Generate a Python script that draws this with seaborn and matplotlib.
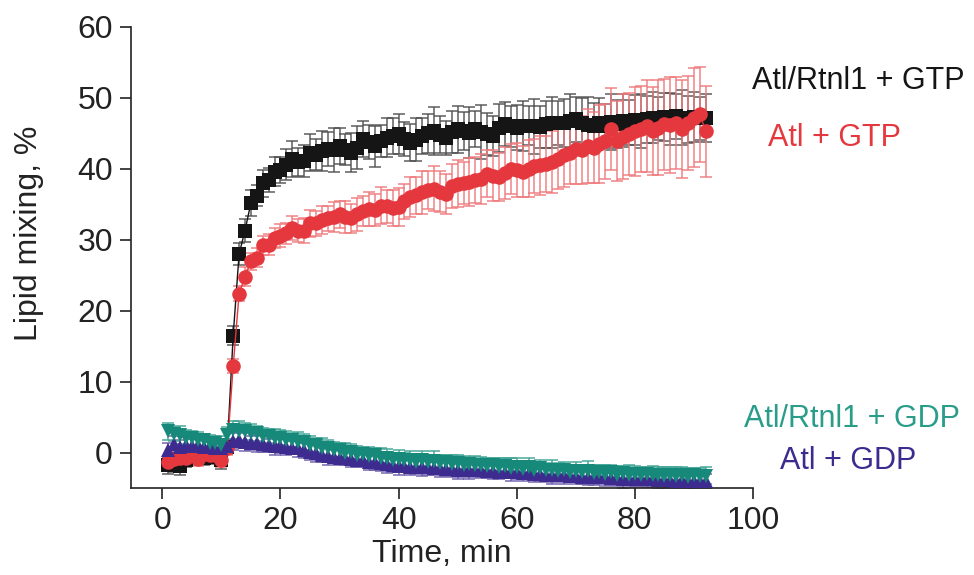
import numpy as np
import pandas as pd
import matplotlib
matplotlib.use("Agg")
import matplotlib.pyplot as plt
import seaborn as sns

sns.set_style("ticks")
plt.rcParams['font.family'] = ['Liberation Sans', 'DejaVu Sans']

# время, мин
time_min = [1, 2, 3, 4, 5, 6, 7, 8, 9, 10,
            11, 12, 13, 14, 15, 16, 17, 18, 19, 20,
            21, 22, 23, 24, 25, 26, 27, 28, 29, 30,
            31, 32, 33, 34, 35, 36, 37, 38, 39, 40,
            41, 42, 43, 44, 45, 46, 47, 48, 49, 50,
            51, 52, 53, 54, 55, 56, 57, 58, 59, 60,
            61, 62, 63, 64, 65, 66, 67, 68, 69, 70,
            71, 72, 73, 74, 75, 76, 77, 78, 79, 80,
            81, 82, 83, 84, 85, 86, 87, 88, 89, 90,
            91, 92]

# Atl/Rtnl1 + GTP
rtnl_gtp = [-1.8, -1.2, -1.9, -1.0, -0.6, -0.4, -0.7, -0.3, -0.6, -1.0,
            0.8, 16.5, 28.0, 31.3, 35.2, 36.2, 38.0, 38.4, 39.6, 39.8,
            40.6, 41.4, 41.0, 41.1, 42.3, 42.0, 42.5, 42.8, 42.6, 43.2,
            42.7, 42.3, 43.0, 44.2, 43.8, 43.2, 43.9, 44.4, 44.6, 44.9,
            44.2, 43.7, 44.1, 44.6, 45.0, 45.3, 44.8, 44.4, 45.2, 45.6,
            45.3, 45.1, 45.6, 45.2, 44.9, 44.6, 45.8, 46.3, 46.0, 45.8,
            46.0, 46.1, 46.0, 45.9, 46.3, 46.5, 46.4, 46.5, 46.8, 47.0,
            46.5, 46.2, 46.0, 46.4, 46.0, 46.6, 46.3, 46.8, 46.5, 46.9,
            46.7, 47.0, 47.2, 47.1, 47.3, 47.0, 47.4, 47.2, 47.0, 47.3,
            47.1, 47.2]
rtnl_gtp_err = [1.2, 1.5, 1.3, 1.0, 1.1, 0.9, 1.0, 0.8, 1.0, 1.3,
                1.0, 1.4, 1.5, 1.6, 1.8, 1.5, 1.9, 1.7, 2.0, 1.8,
                2.2, 2.5, 2.0, 2.3, 2.6, 2.2, 2.8, 2.4, 3.1, 2.5,
                2.2, 2.7, 3.0, 2.6, 2.4, 2.9, 2.3, 2.7, 2.5, 2.8,
                2.4, 2.6, 3.0, 2.5, 2.7, 3.4, 2.6, 2.4, 2.9, 3.3,
                2.7, 3.6, 2.5, 3.8, 3.0, 2.8, 3.4, 3.1, 2.9, 3.2,
                3.5, 2.8, 3.9, 3.0, 3.3, 3.6, 3.1, 3.4, 3.8, 3.2,
                3.5, 4.0, 3.3, 3.6, 3.1, 3.9, 3.4, 3.7, 3.2, 3.5,
                3.8, 3.3, 3.6, 3.0, 3.4, 3.7, 3.2, 3.9, 3.3, 3.5,
                3.1, 3.4]

# Atl + GTP
atl_gtp = [-1.3, -0.9, -0.7, -0.8, -0.3, -0.9, -0.2, -0.4, -0.3, -1.0,
           0.6, 12.2, 22.4, 24.8, 27.0, 27.5, 29.2, 29.3, 30.3, 30.6,
           30.9, 31.6, 31.3, 31.3, 32.3, 32.3, 32.8, 33.0, 33.2, 33.6,
           33.2, 33.0, 33.6, 34.1, 34.4, 34.2, 34.8, 34.7, 34.5, 34.6,
           35.4, 36.0, 36.3, 36.7, 37.0, 37.2, 36.8, 36.5, 37.6, 37.9,
           38.0, 38.1, 38.4, 38.6, 39.3, 39.0, 38.8, 39.4, 40.0, 39.8,
           39.6, 40.0, 40.4, 40.5, 40.7, 41.0, 41.4, 42.0, 42.3, 42.8,
           42.6, 43.2, 43.0, 43.5, 43.9, 45.6, 43.9, 44.5, 44.9, 45.3,
           45.6, 46.0, 45.3, 45.8, 46.3, 46.2, 46.5, 45.6, 46.5, 47.2,
           47.7, 45.3]
atl_gtp_err = [0.8, 1.0, 0.9, 0.7, 0.8, 1.0, 0.7, 0.9, 0.8, 1.0,
               0.9, 1.0, 1.1, 1.3, 1.2, 1.4, 1.3, 1.5, 1.4, 1.6,
               1.5, 1.7, 1.6, 1.8, 1.9, 1.7, 2.0, 1.8, 2.1, 1.9,
               2.2, 2.0, 2.3, 2.1, 2.4, 2.2, 2.6, 2.3, 2.5, 2.7,
               2.5, 2.8, 2.6, 3.0, 2.7, 3.2, 2.9, 2.8, 3.1, 3.3,
               3.0, 3.4, 3.2, 3.5, 3.3, 3.6, 3.4, 3.7, 3.5, 3.8,
               3.6, 4.0, 3.8, 4.2, 4.0, 4.4, 4.3, 4.6, 4.5, 4.9,
               4.8, 5.2, 5.0, 5.5, 5.3, 5.8, 5.6, 6.0, 5.8, 6.3,
               6.1, 6.5, 6.2, 6.7, 6.4, 6.8, 6.5, 6.9, 6.6, 7.0,
               6.7, 6.4]

# Atl/Rtnl1 + GDP
rtnl_gdp = [3.0, 2.6, 2.5, 2.1, 2.1, 1.7, 1.7, 1.4, 1.4, 1.1,
            2.5, 3.2, 3.0, 3.0, 2.7, 2.7, 2.3, 2.3, 2.0, 2.1,
            1.8, 1.8, 1.5, 1.5, 1.1, 1.1, 0.7, 0.6, 0.3, 0.4,
            0.0, 0.1, -0.3, -0.2, -0.5, -0.4, -0.8, -0.7, -1.0, -0.9,
            -1.1, -1.0, -1.3, -1.1, -1.4, -1.2, -1.5, -1.4, -1.6, -1.5,
            -1.7, -1.6, -1.8, -1.7, -1.9, -1.8, -2.0, -1.9, -2.2, -2.0,
            -2.3, -2.1, -2.4, -2.2, -2.5, -2.4, -2.6, -2.5, -2.7, -2.6,
            -2.8, -2.6, -2.9, -2.7, -3.0, -2.8, -3.1, -2.9, -3.1, -3.0,
            -3.2, -3.0, -3.2, -3.1, -3.3, -3.1, -3.3, -3.2, -3.4, -3.2,
            -3.3, -3.3]
rtnl_gdp_err = [1.2, 1.0, 1.3, 1.1, 1.0, 1.2, 0.9, 1.1, 1.0, 1.2,
                1.1, 1.3, 1.4, 1.2, 1.3, 1.1, 1.2, 1.0, 1.3, 1.1,
                1.2, 1.0, 1.4, 1.1, 1.2, 1.0, 1.3, 1.1, 1.2, 1.0,
                1.3, 1.1, 1.2, 1.0, 1.3, 1.1, 1.4, 1.2, 1.0, 1.3,
                1.1, 1.2, 1.0, 1.3, 1.1, 1.4, 1.2, 1.0, 1.3, 1.1,
                1.2, 1.0, 1.3, 1.1, 1.2, 1.0, 1.3, 1.1, 1.4, 1.2,
                1.0, 1.3, 1.1, 1.2, 1.0, 1.3, 1.1, 1.2, 1.0, 1.3,
                1.1, 1.4, 1.2, 1.0, 1.3, 1.1, 1.2, 1.0, 1.3, 1.1,
                1.2, 1.0, 1.3, 1.1, 1.2, 1.0, 1.3, 1.1, 1.2, 1.0,
                1.1, 1.2]

# Atl + GDP
atl_gdp = [0.3, 1.2, 0.8, 1.1, 0.9, 1.0, 0.8, 0.9, 0.7, 0.6,
           0.9, 1.6, 1.8, 1.5, 1.4, 1.3, 1.2, 1.0, 0.9, 0.9,
           0.8, 0.7, 0.6, 0.3, 0.1, -0.1, -0.3, -0.5, -0.6, -0.7,
           -0.8, -0.9, -1.0, -1.1, -1.3, -1.4, -1.5, -1.6, -1.8, -1.9,
           -1.9, -2.0, -2.0, -2.1, -2.1, -2.2, -2.2, -2.3, -2.3, -2.4,
           -2.4, -2.5, -2.5, -2.5, -2.6, -2.6, -2.7, -2.7, -2.8, -2.8,
           -2.9, -2.9, -3.0, -3.0, -3.1, -3.1, -3.2, -3.2, -3.3, -3.3,
           -3.4, -3.4, -3.5, -3.5, -3.5, -3.6, -3.6, -3.7, -3.7, -3.7,
           -3.8, -3.8, -3.8, -3.9, -3.9, -3.9, -4.0, -3.9, -4.0, -4.0,
           -4.0, -4.0]
atl_gdp_err = [1.0, 1.2, 0.9, 1.1, 1.0, 1.2, 0.9, 1.0, 1.1, 0.9,
               1.0, 1.2, 1.1, 1.3, 1.0, 1.2, 1.1, 0.9, 1.2, 1.0,
               1.1, 0.9, 1.2, 1.0, 1.1, 1.3, 1.0, 1.2, 0.9, 1.1,
               1.0, 1.2, 1.1, 0.9, 1.2, 1.0, 1.1, 1.3, 1.0, 1.2,
               0.9, 1.1, 1.0, 1.2, 1.1, 0.9, 1.2, 1.0, 1.1, 1.3,
               1.0, 1.2, 0.9, 1.1, 1.0, 1.2, 1.1, 0.9, 1.2, 1.0,
               1.1, 0.9, 1.2, 1.0, 1.1, 1.3, 1.0, 1.2, 0.9, 1.1,
               1.0, 1.2, 1.1, 0.9, 1.2, 1.0, 1.1, 1.3, 1.0, 1.2,
               0.9, 1.1, 1.0, 1.2, 1.1, 0.9, 1.2, 1.0, 1.1, 1.0,
               0.9, 1.0]

labels = ['Atl/Rtnl1 + GTP', 'Atl + GTP', 'Atl/Rtnl1 + GDP', 'Atl + GDP']

# порядок отрисовки: чёрный, красный, фиолетовый, бирюзовый
series = [
    # label, y, err, marker, markersize, color, errcolor, textcolor, text x, text y
    (labels[0], rtnl_gtp, rtnl_gtp_err, 's', 9.5, '#151515', '#505050', '#151515', 752, 81),
    (labels[1], atl_gtp, atl_gtp_err, 'o', 10.5, '#e5383e', '#ef7a7e', '#e5383e', 768, 138),
    (labels[3], atl_gdp, atl_gdp_err, '^', 10.5, '#3d2b8f', '#6a5aa8', '#3d2b8f', 780, 461),
    (labels[2], rtnl_gdp, rtnl_gdp_err, 'v', 10.5, '#17897a', '#3da293', '#2a9c8a', 744, 419),
]

W, H = 974, 575
fig = plt.figure(figsize=(W / 100, H / 100), dpi=100)
ax = fig.add_axes([131 / W, 1 - 488 / H, (753 - 131) / W, (488 - 27) / H])

for name, y, err, mk, ms, col, ecol, tcol, tx, ty in series:
    df = pd.DataFrame({'t': time_min, 'y': y})
    ax.errorbar(time_min, y, yerr=err, fmt='none', ecolor=ecol,
                elinewidth=1.2, capsize=4, capthick=1.2, alpha=0.85, zorder=2)
    sns.lineplot(data=df, x='t', y='y', ax=ax, color=col, linewidth=1.0,
                 marker=mk, markersize=ms, markeredgewidth=0,
                 markerfacecolor=col, errorbar=None, zorder=3)
    fig.text(tx / W, 1 - ty / H, name, color=tcol, fontsize=22,
             ha='left', va='center')

ax.set_xlim(-5.3, 100)
ax.set_ylim(-5, 60)
ax.set_xticks([0, 20, 40, 60, 80, 100])
ax.set_yticks([0, 10, 20, 30, 40, 50, 60])
ax.set_xlabel('')
ax.set_ylabel('')
sns.despine(ax=ax)
for s in ['left', 'bottom']:
    ax.spines[s].set_linewidth(1.2)
    ax.spines[s].set_color('#222222')
ax.tick_params(axis='both', length=8, width=1.2, labelsize=23,
               colors='#222222', pad=5)

fig.text(29 / W, 1 - 233 / H, 'Lipid mixing, %', rotation=90,
         fontsize=23, ha='center', va='center', color='#222222')
fig.text(442 / W, 1 - 554 / H, 'Time, min', fontsize=23,
         ha='center', va='center', color='#222222')

fig.savefig('out.png', dpi=100)
